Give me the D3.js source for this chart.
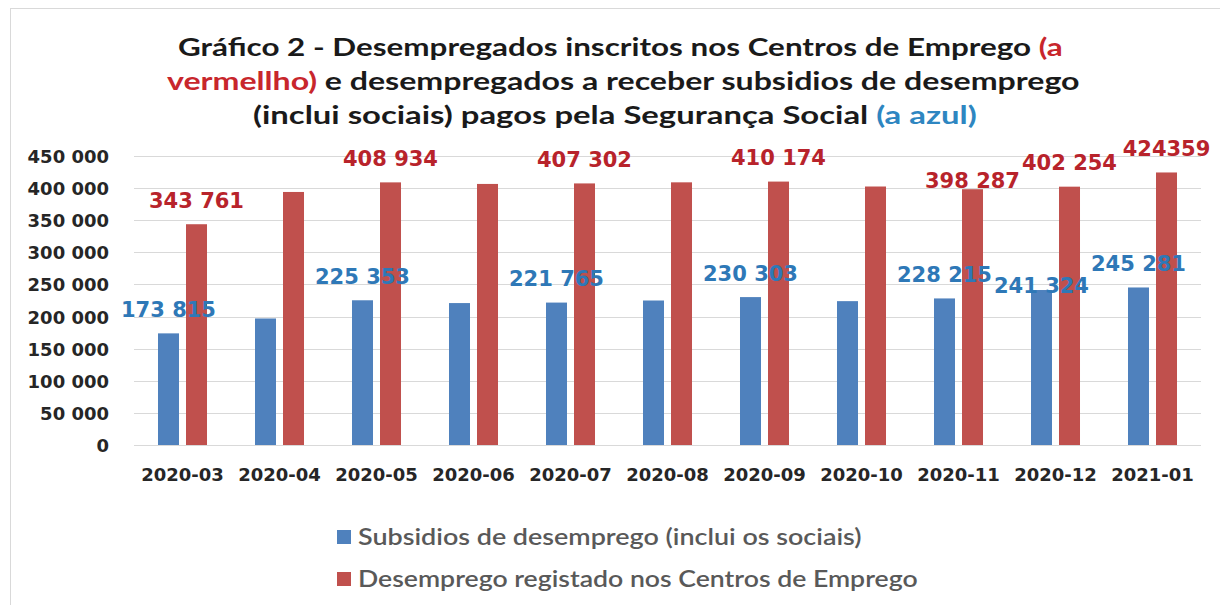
<!DOCTYPE html>
<html><head><meta charset="utf-8">
<script src="https://cdn.jsdelivr.net/npm/d3@7"></script>
<style>body{margin:0;background:#fff;overflow:hidden}</style>
</head><body>
<svg id="c" width="1220" height="605"></svg>
<script>
// ---------- data ----------
const categories = ["2020-03","2020-04","2020-05","2020-06","2020-07","2020-08","2020-09","2020-10","2020-11","2020-12","2021-01"];
const subsidios  = [173815, 197000, 225353, 221000, 221765, 225000, 230303, 224000, 228215, 241324, 245281];
const registados = [343761, 394000, 408934, 406500, 407302, 409000, 410174, 402500, 398287, 402254, 424359];
const subsidiosLabels  = ["173 815", null, "225 353", null, "221 765", null, "230 303", null, "228 215", "241 324", "245 281"];
const registadosLabels = ["343 761", null, "408 934", null, "407 302", null, "410 174", null, "398 287", "402 254", "424359"];
const yTicks = [0, 50000, 100000, 150000, 200000, 250000, 300000, 350000, 400000, 450000];
const seriesNames = ["Subsidios de desemprego (inclui os sociais)", "Desemprego registado nos Centros de Emprego"];
const titleLines = [
  [["Gráfico 2 - Desempregados inscritos nos Centros de Emprego ", "k"], ["(a", "r"]],
  [["vermellho)", "r"], [" e desempregados a receber subsidios de desemprego", "k"]],
  [["(inclui sociais) pagos pela Segurança Social ", "k"], ["(a azul)", "b"]]
];

// ---------- style / layout ----------
const C = { blueBar:"#4f81bd", redBar:"#c0504d", blueTxt:"#2e78b7", redTxt:"#b8232b", k:"#1a1a1a", grid:"#d9d9d9", axis:"#262626", legend:"#595959" };
const TC = { k:C.k, r:"#c8262c", b:"#2e86c1" };
const svg = d3.select("#c");
svg.append("rect").attr("width",1220).attr("height",605).attr("fill","#fff");
svg.append("rect").attr("x",10.5).attr("y",8.5).attr("width",1400).attr("height",800)
  .attr("fill","none").attr("stroke","#d9d9d9");

const x0 = d3.scaleBand().domain(categories).range([134, 1201]);
const x1 = d3.scaleBand().domain(["s","r"]).range([0, x0.bandwidth()]).paddingInner(0.25).paddingOuter(0.857);
const y = d3.scaleLinear().domain([0, 450000]).range([445, 156]);
const fmt = d3.formatLocale({decimal:",", thousands:" ", grouping:[3], currency:["","€"]}).format(",d");

// gridlines
svg.append("g").selectAll("line").data(yTicks).join("line")
  .attr("x1",134).attr("x2",1201).attr("y1",d=>Math.round(y(d))+0.5).attr("y2",d=>Math.round(y(d))+0.5)
  .attr("stroke",C.grid).attr("stroke-width",1);

// y axis
const ya = svg.append("g").attr("transform","translate(134,0)")
  .call(d3.axisLeft(y).tickValues(yTicks).tickFormat(fmt).tickSize(0).tickPadding(25));
ya.select(".domain").remove();
ya.selectAll("text").attr("font-family","DejaVu Sans").attr("font-weight","bold").attr("font-size",18).attr("fill",C.axis).attr("dy","0.36em");

// x axis
const xa = svg.append("g").attr("transform","translate(0,445)")
  .call(d3.axisBottom(x0).tickSize(0).tickPadding(23));
xa.select(".domain").remove();
xa.selectAll("text").attr("font-family","DejaVu Sans").attr("font-weight","bold").attr("font-size",18).attr("fill",C.axis);

// bars
const series = [
  {key:"s", values:subsidios, labels:subsidiosLabels, fill:C.blueBar, txt:C.blueTxt},
  {key:"r", values:registados, labels:registadosLabels, fill:C.redBar, txt:C.redTxt}
];
const labelNudge = { "r:2020-11": 15, "s:2020-12": 19 };
series.forEach(s => {
  const g = svg.append("g");
  g.selectAll("rect").data(categories).join("rect")
    .attr("x",(c)=>x0(c)+x1(s.key)).attr("width",x1.bandwidth())
    .attr("y",(c,i)=>y(s.values[i])).attr("height",(c,i)=>y(0)-y(s.values[i]))
    .attr("fill",s.fill);
});
series.forEach(s => {
  const g = svg.append("g");
  categories.forEach((c,i) => {
    if (!s.labels[i]) return;
    const nud = labelNudge[s.key+":"+c] || 0;
    g.append("text").attr("x", x0(c)+x1(s.key)+x1.bandwidth()/2)
      .attr("y", y(s.values[i]) - 16.5 + nud)
      .attr("text-anchor","middle").attr("font-family","DejaVu Sans").attr("font-weight","bold")
      .attr("font-size",21).attr("fill",s.txt).text(s.labels[i]);
  });
});

// title
const titleStarts = [178, 167, 253], titleBase = [56, 90, 124], titleW = [885, 913, 724];
titleLines.forEach((segs, li) => {
  const t = svg.append("text").attr("font-family","Lato").attr("font-weight","bold").attr("font-size",25)
    .attr("x",0).attr("y",0).style("white-space","pre");
  segs.forEach(([txt,col]) => t.append("tspan").attr("fill",TC[col]).text(txt));
  const w = t.node().getComputedTextLength();
  t.attr("transform",`translate(${titleStarts[li]},${titleBase[li]}) scale(${titleW[li]/w},1)`);
});

// legend
const legY = [537, 579], legW = [504, 560], legFill = [C.blueBar, C.redBar];
seriesNames.forEach((n, i) => {
  svg.append("rect").attr("x",337).attr("y",legY[i]-7).attr("width",14).attr("height",14).attr("fill",legFill[i]);
  const t = svg.append("text").attr("font-family","Lato").attr("font-weight",600).attr("font-size",23)
    .attr("fill",C.legend).text(n);
  const w = t.node().getComputedTextLength();
  t.attr("transform",`translate(358,${legY[i]+8.3}) scale(${legW[i]/w},1)`);
});
</script>
</body></html>
